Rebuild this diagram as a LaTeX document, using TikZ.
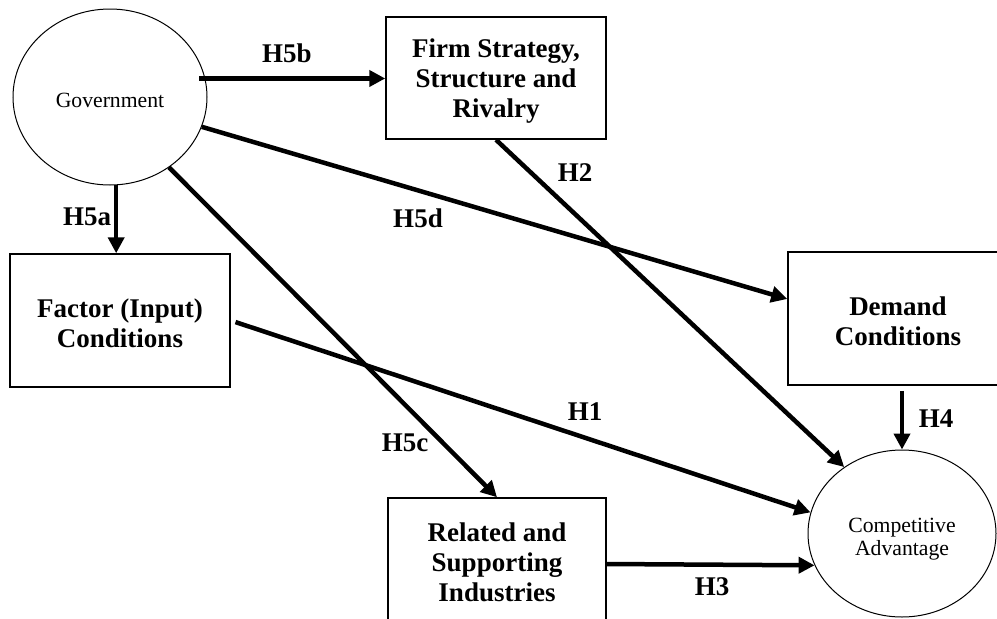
\documentclass[tikz,border=0pt]{standalone}
\usepackage{fontspec}
\setmainfont{Liberation Serif}
\usetikzlibrary{arrows.meta,shapes.geometric}
\newcommand{\boxfnt}{\fontsize{27}{30}\selectfont\bfseries}
\newcommand{\lblfnt}{\fontsize{27}{30}\selectfont\bfseries}
\newcommand{\ovalfnt}{\fontsize{21.7}{23.5}\selectfont}
\tikzset{
  boxnode/.style={draw, line width=1.5pt, rectangle, align=center, font=\boxfnt, inner sep=0pt},
  ovalnode/.style={draw, ellipse, line width=1pt, align=center, font=\ovalfnt, inner sep=0pt},
  arr/.style={line width=4.5pt, -{Triangle[length=16pt,width=16pt]}},
  lbl/.style={font=\lblfnt, inner sep=0pt}
}
\begin{document}
\begin{tikzpicture}[x=1pt,y=-1pt]
\useasboundingbox (0,0) rectangle (997,619);
\clip (0,0) rectangle (997,619);
% nodes
\node[ovalnode, minimum width=194pt, minimum height=176pt] (gov) at (110,97) {};
\node[font=\ovalfnt, inner sep=0pt] (govtxt) at (110,100) {Government};
\node[boxnode, minimum width=220pt, minimum height=122pt] (firm) at (496,78) {};
\node[font=\boxfnt, align=center, inner sep=0pt] (firmtxt) at (496,81) {Firm Strategy,\\Structure and\\Rivalry};
\node[boxnode, minimum width=220pt, minimum height=133pt] (factor) at (120,320.5) {};
\node[font=\boxfnt, align=center, inner sep=0pt] (factortxt) at (120,323) {Factor (Input)\\Conditions};
\node[boxnode, minimum width=220pt, minimum height=133pt] (demand) at (898,318.5) {};
\node[font=\boxfnt, align=center, inner sep=0pt] (demandtxt) at (898,321) {Demand\\Conditions};
\node[boxnode, minimum width=218pt, minimum height=132pt] (related) at (497,564) {};
\node[font=\boxfnt, align=center, inner sep=0pt] (relatedtxt) at (497,562) {Related and\\Supporting\\Industries};
\node[ovalnode, minimum width=188pt, minimum height=167pt] (comp) at (902,533.5) {};
\node[font=\ovalfnt, align=center, inner sep=0pt] (comptxt) at (902,539) {Competitive\\Advantage};
% connectors
\draw[arr, shorten <=-6pt] (gov.11) -- (gov.11 -| firm.west);
\draw[arr] (gov.-18) -- (demand.170);
\draw[arr] (gov.-50) -- (related.north);
\draw[arr] (gov.-86) -- (gov.-86 |- factor.north);
\draw[arr, shorten <=5pt] (factor.east) -- (comp.167);
\draw[arr] (firm.south) -- (comp.131);
\draw[arr] (related.east) -- (comp.-160);
\draw[arr, shorten <=5pt] (demand.south -| comp.north) -- (comp.north);
% labels
\node[lbl] (l5b) at (287,53) {H5b};
\node[lbl] (l5a) at (87,217) {H5a};
\node[lbl] (l5d) at (418,218) {H5d};
\node[lbl] (l2) at (575,173) {H2};
\node[lbl] (l1) at (585,412) {H1};
\node[lbl] (l5c) at (405,443) {H5c};
\node[lbl] (l3) at (712,587) {H3};
\node[lbl] (l4) at (936,419) {H4};
\end{tikzpicture}
\end{document}
